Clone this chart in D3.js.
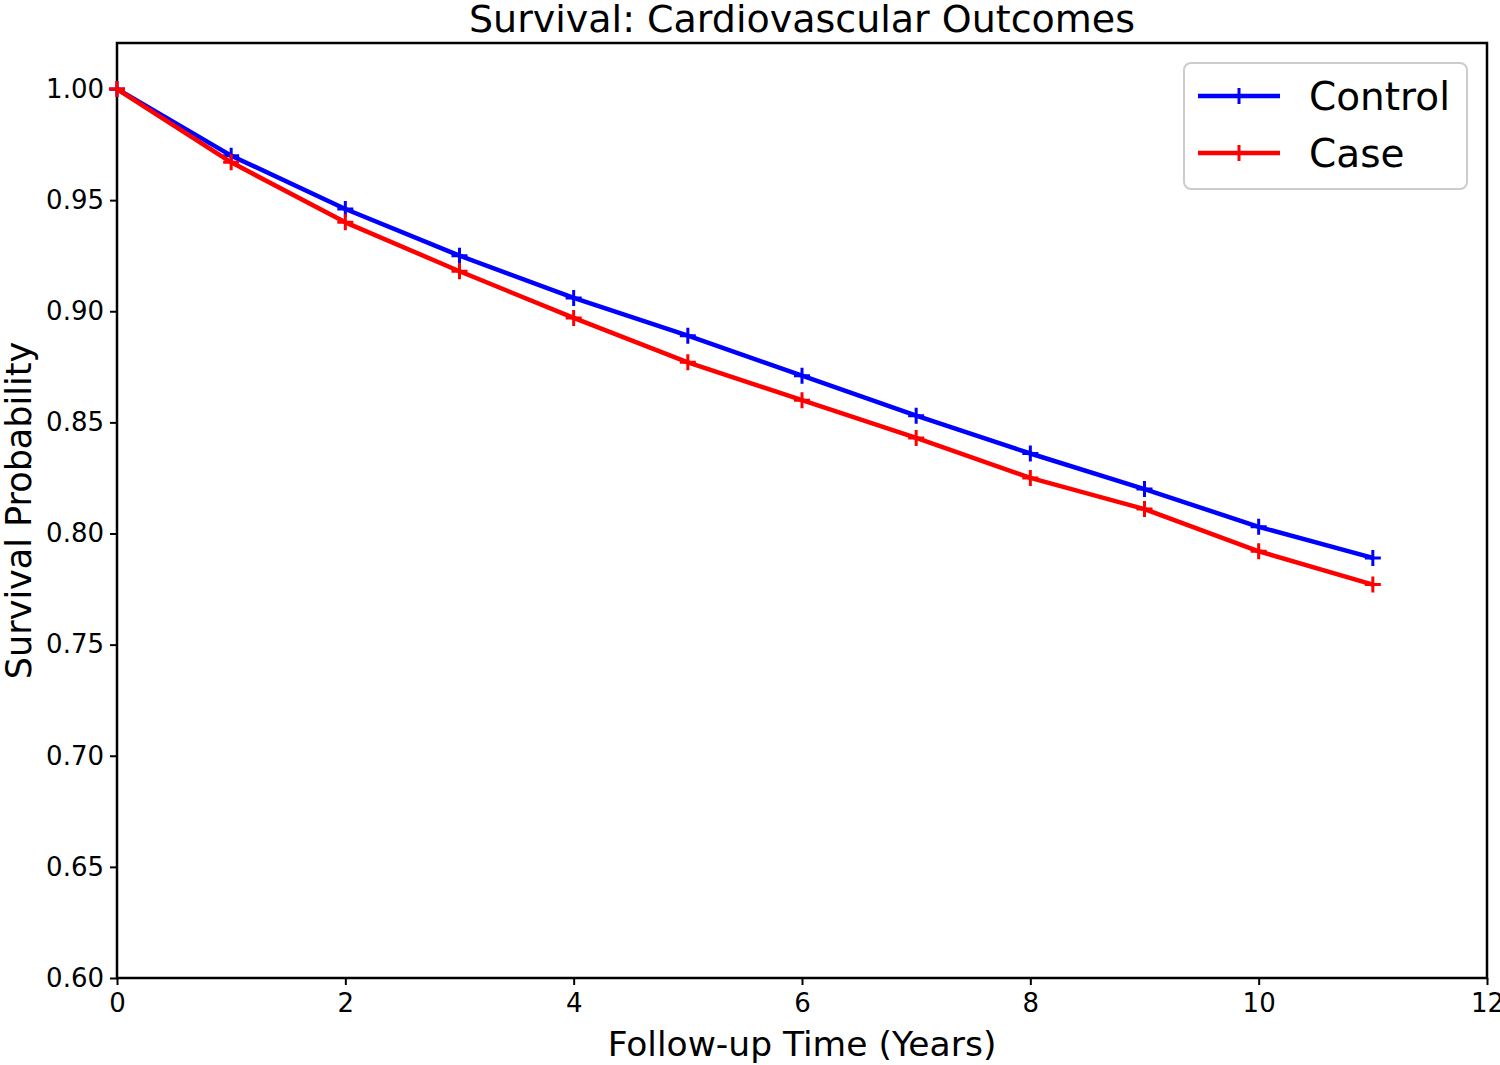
<!DOCTYPE html>
<html><head><meta charset="utf-8">
<script src="https://cdn.jsdelivr.net/npm/d3@7"></script>
<style>body{margin:0;background:#fff;} svg{display:block;font-family:"DejaVu Sans",sans-serif;}</style>
</head><body>
<svg id="c" width="1500" height="1065"></svg>
<script>
const years = [0,1,2,3,4,5,6,7,8,9,10,11];
const controlValues = [1.000,0.970,0.946,0.925,0.906,0.889,0.871,0.853,0.836,0.820,0.803,0.789];
const caseValues    = [1.000,0.967,0.940,0.918,0.897,0.877,0.860,0.843,0.825,0.811,0.792,0.777];
const seriesNames = ["Control","Case"];
const seriesColors = ["#0000ff","#ff0000"];
const xTicks = [0,2,4,6,8,10,12];
const yTicks = [0.60,0.65,0.70,0.75,0.80,0.85,0.90,0.95,1.00];

const svg = d3.select("#c");
const L=117,R=1487,T=43,B=978;
const x = d3.scaleLinear().domain([0,12]).range([L,R]);
const y = d3.scaleLinear().domain([0.6,1.0207]).range([B,T]);

const series = [controlValues, caseValues];

// axes
const xa = svg.append("g").attr("transform",`translate(0,${B})`)
  .call(d3.axisBottom(x).tickValues(xTicks).tickFormat(d3.format("d")).tickSizeOuter(0).tickSize(7).tickPadding(5));
const ya = svg.append("g").attr("transform",`translate(${L},0)`)
  .call(d3.axisLeft(y).tickValues(yTicks).tickFormat(d3.format(".2f")).tickSizeOuter(0).tickSize(7).tickPadding(6));
[xa,ya].forEach(g=>{
  g.select(".domain").remove();
  g.selectAll(".tick line").attr("stroke","#000").attr("stroke-width",2);
  g.selectAll(".tick text").attr("fill","#000").style("font-size","26px").style("font-family","DejaVu Sans");
});
xa.selectAll(".tick text").attr("dy","0.85em");

// frame
svg.append("rect").attr("x",L).attr("y",T).attr("width",R-L).attr("height",B-T)
  .attr("fill","none").attr("stroke","#000").attr("stroke-width",2.5);

const line = d3.line().x((d,i)=>x(years[i])).y(d=>y(d));
const ms = 8;
series.forEach((vals,si)=>{
  const g = svg.append("g");
  g.append("path").datum(vals).attr("d",line).attr("fill","none")
    .attr("stroke",seriesColors[si]).attr("stroke-width",4.5).attr("stroke-linejoin","round");
  g.selectAll("path.m").data(vals).enter().append("path").attr("class","m")
    .attr("d",(d,i)=>{const cx=x(years[i]),cy=y(d);return `M${cx-ms},${cy}H${cx+ms}M${cx},${cy-ms}V${cy+ms}`;})
    .attr("stroke",seriesColors[si]).attr("stroke-width",3).attr("fill","none");
});

// title and labels
svg.append("text").attr("x",(L+R)/2).attr("y",32).attr("text-anchor","middle")
  .style("font-size","38px").text("Survival: Cardiovascular Outcomes");
svg.append("text").attr("x",(L+R)/2).attr("y",1056).attr("text-anchor","middle")
  .style("font-size","34.5px").text("Follow-up Time (Years)");
svg.append("text").attr("transform",`translate(31,${(T+B)/2}) rotate(-90)`).attr("text-anchor","middle")
  .style("font-size","35px").text("Survival Probability");

// legend
const lg = svg.append("g");
lg.append("rect").attr("x",1184).attr("y",63).attr("width",283).attr("height",126).attr("rx",7)
  .attr("fill","#fff").attr("fill-opacity",0.8).attr("stroke","#cccccc").attr("stroke-width",2);
seriesNames.forEach((n,i)=>{
  const yy = 96 + i*57;
  lg.append("line").attr("x1",1198).attr("x2",1280).attr("y1",yy).attr("y2",yy)
    .attr("stroke",seriesColors[i]).attr("stroke-width",4.5);
  lg.append("path").attr("d",`M1239,${yy-ms}V${yy+ms}M${1239-ms},${yy}H${1239+ms}`)
    .attr("stroke",seriesColors[i]).attr("stroke-width",3);
  lg.append("text").attr("x",1309).attr("y",yy+14).style("font-size","39px").text(n);
});
</script>
</body></html>
